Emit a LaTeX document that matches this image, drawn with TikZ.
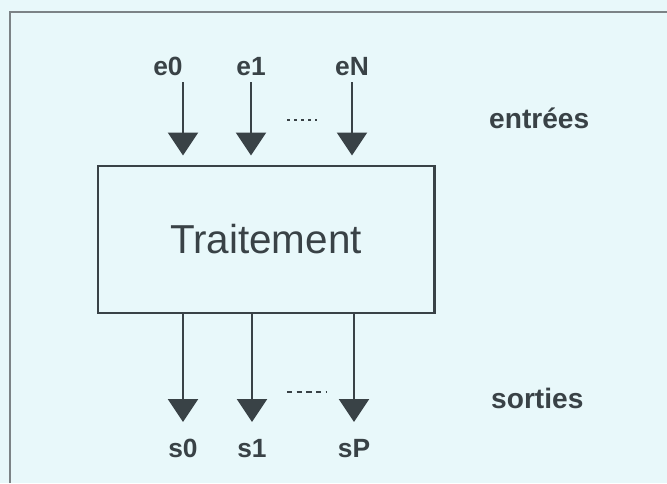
\documentclass[tikz,border=0pt]{standalone}
\usepackage{fontspec}
\setmainfont{Liberation Sans}
\usetikzlibrary{arrows.meta}

\definecolor{fond}{HTML}{E8F8FA}
\definecolor{encre}{HTML}{394246}
\definecolor{cadre}{HTML}{7C8386}

\begin{document}
\begin{tikzpicture}[
    fleche/.style={encre,line width=1.4pt,-{Triangle[width=0.6cm,length=0.46cm]}},
    etiq/.style={encre,font=\fontsize{15}{18}\selectfont\bfseries},
    legende/.style={encre,anchor=west,font=\fontsize{16}{19}\selectfont\bfseries}]
  \fill [fond] (0,0) rectangle (13.34,9.66);
  \useasboundingbox (0,0) rectangle (13.34,9.66);
  % cadre ouvert sur la droite et le bas
  \draw [cadre,line width=1.2pt] (0.2,0) -- (0.2,9.42) -- (13.34,9.42);
  \node [draw=encre,line width=1.7pt,minimum width=6.72cm,minimum height=2.94cm,
         text=encre,font=\fontsize{23}{27}\selectfont] (trait) at (5.32,4.87) {Traitement};
  \coordinate [label={[etiq,xshift=-0.3cm,label distance=0cm]above:e0}] (e0) at (3.66,8.02);
  \coordinate [label={[etiq,label distance=0cm]above:e1}] (e1) at (5.02,8.02);
  \coordinate [label={[etiq,label distance=0cm]above:eN}] (eN) at (7.04,8.02);
  \coordinate [label={[etiq,label distance=0.22cm]below:s0}] (s0) at (3.66,1.22);
  \coordinate [label={[etiq,label distance=0.22cm]below:s1}] (s1) at (5.04,1.22);
  \coordinate [label={[etiq,label distance=0.22cm]below:sP}] (sP) at (7.08,1.22);
  \draw [fleche,shorten >=0.18cm] (e0) -- (e0 |- trait.north);
  \draw [fleche,shorten >=0.18cm] (e1) -- (e1 |- trait.north);
  \draw [fleche,shorten >=0.18cm] (eN) -- (eN |- trait.north);
  \draw [fleche] (s0 |- trait.south) -- (s0);
  \draw [fleche] (s1 |- trait.south) -- (s1);
  \draw [fleche] (sP |- trait.south) -- (sP);
  \draw [encre,line width=0.9pt,dash pattern=on 1.5pt off 2.5pt] (5.74,7.26) -- (6.34,7.26);
  \draw [encre,line width=0.9pt,dash pattern=on 3pt off 2.5pt] (5.74,1.82) -- (6.54,1.82);
  \node [legende] (entrees) at (9.66,7.30) {entrées};
  \node [legende] (sorties) at (9.70,1.70) {sorties};
\end{tikzpicture}
\end{document}
